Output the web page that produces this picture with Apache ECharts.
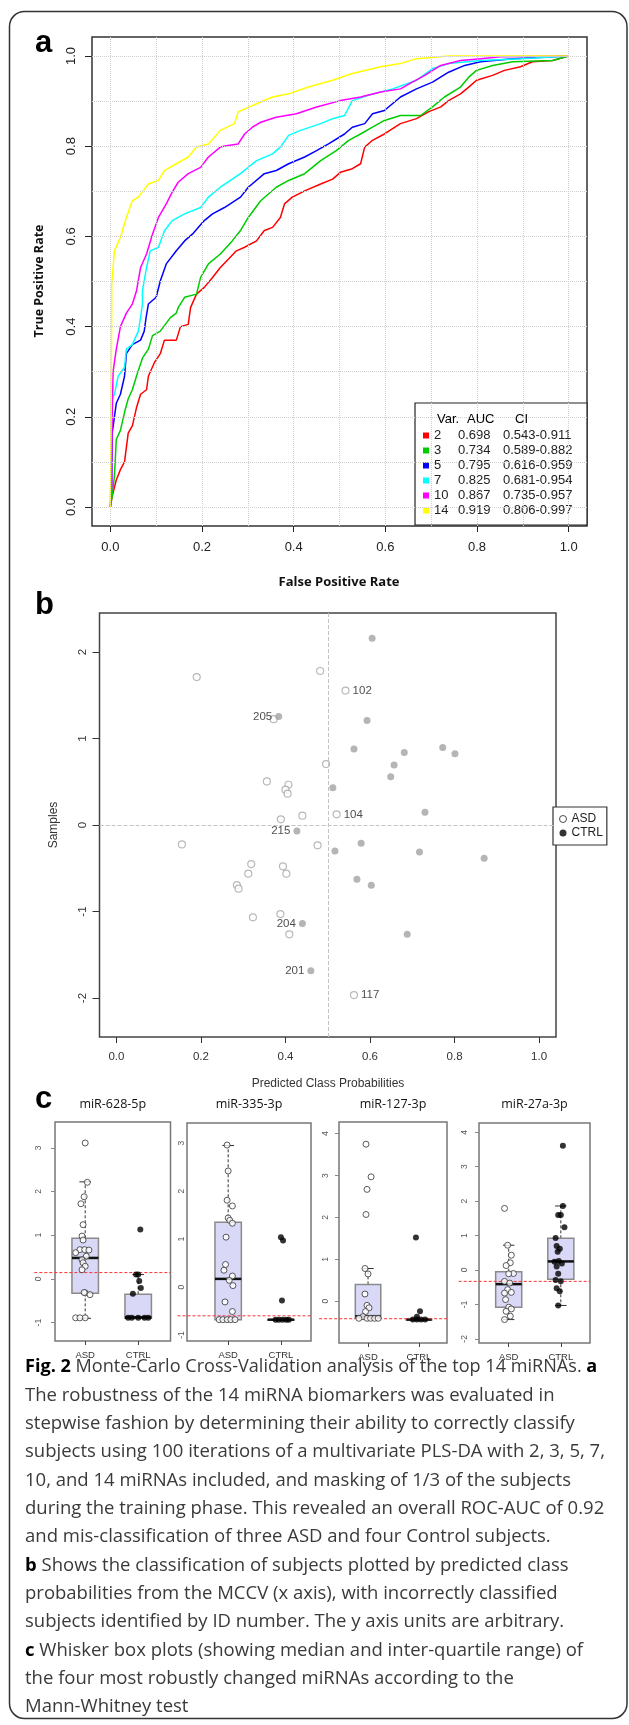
<!DOCTYPE html>
<html>
<head>
<meta charset="utf-8">
<script src="https://cdn.jsdelivr.net/npm/echarts@6/dist/echarts.min.js"></script>
<style>
html, body { margin: 0; padding: 0; background: #fff; }
#main { width: 629px; height: 1725px; }
</style>
</head>
<body>
<div id="main"></div>
<script>
// ---- panel a: ROC curves ([FPR, TPR]) ----
var rocVars = ['2', '3', '5', '7', '10', '14'];
var rocAuc = ['0.698', '0.734', '0.795', '0.825', '0.867', '0.919'];
var rocCi = ['0.543-0.911', '0.589-0.882', '0.616-0.959', '0.681-0.954', '0.735-0.957', '0.806-0.997'];
var rocColors = ['#ff0000', '#00cd00', '#0000ff', '#00ffff', '#ff00ff', '#ffff00'];
var rocTicks = [0, 0.2, 0.4, 0.6, 0.8, 1.0];
var rocGridSteps = [0, 0.1, 0.2, 0.3, 0.4, 0.5, 0.6, 0.7, 0.8, 0.9, 1.0];

var roc2 = [[0,0],[0.004,0.024],[0.013,0.06],[0.022,0.083],[0.031,0.1],[0.039,0.164],[0.048,0.18],[0.057,0.22],[0.066,0.25],[0.079,0.26],[0.083,0.29],[0.096,0.32],[0.109,0.34],[0.118,0.37],[0.144,0.37],[0.153,0.4],[0.17,0.405],[0.175,0.442],[0.188,0.472],[0.205,0.487],[0.223,0.509],[0.24,0.531],[0.258,0.55],[0.275,0.568],[0.293,0.576],[0.319,0.59],[0.336,0.613],[0.354,0.62],[0.371,0.642],[0.38,0.672],[0.397,0.687],[0.424,0.701],[0.459,0.716],[0.485,0.727],[0.502,0.742],[0.528,0.75],[0.546,0.761],[0.555,0.798],[0.572,0.813],[0.598,0.827],[0.633,0.85],[0.668,0.861],[0.694,0.876],[0.721,0.887],[0.738,0.901],[0.764,0.916],[0.782,0.931],[0.799,0.946],[0.834,0.957],[0.86,0.968],[0.895,0.976],[0.921,0.987],[0.965,0.99],[1,1]];
var roc3 = [[0,0],[0.004,0.024],[0.009,0.07],[0.013,0.15],[0.022,0.17],[0.031,0.21],[0.039,0.24],[0.048,0.26],[0.057,0.29],[0.07,0.33],[0.083,0.35],[0.092,0.38],[0.109,0.39],[0.131,0.42],[0.144,0.43],[0.148,0.442],[0.162,0.465],[0.188,0.472],[0.197,0.509],[0.214,0.539],[0.24,0.561],[0.266,0.59],[0.284,0.613],[0.301,0.642],[0.328,0.679],[0.362,0.709],[0.389,0.724],[0.424,0.739],[0.459,0.768],[0.493,0.79],[0.52,0.813],[0.546,0.827],[0.572,0.842],[0.598,0.857],[0.633,0.868],[0.677,0.868],[0.703,0.887],[0.729,0.909],[0.764,0.931],[0.782,0.953],[0.799,0.968],[0.834,0.979],[0.878,0.987],[0.965,0.99],[1,1]];
var roc5 = [[0,0],[0.003,0.05],[0.004,0.164],[0.013,0.23],[0.022,0.25],[0.031,0.29],[0.035,0.34],[0.048,0.36],[0.066,0.37],[0.074,0.39],[0.078,0.42],[0.083,0.45],[0.1,0.465],[0.109,0.501],[0.122,0.539],[0.144,0.568],[0.162,0.59],[0.179,0.605],[0.205,0.635],[0.223,0.65],[0.249,0.664],[0.284,0.687],[0.301,0.709],[0.336,0.739],[0.362,0.746],[0.389,0.761],[0.424,0.776],[0.45,0.79],[0.476,0.805],[0.511,0.827],[0.528,0.842],[0.555,0.85],[0.572,0.872],[0.598,0.879],[0.633,0.909],[0.668,0.927],[0.703,0.942],[0.738,0.964],[0.773,0.979],[0.808,0.987],[0.878,0.994],[1,1]];
var roc7 = [[0,0],[0.002,0.12],[0.002,0.24],[0.009,0.25],[0.017,0.29],[0.031,0.31],[0.035,0.35],[0.048,0.36],[0.061,0.39],[0.066,0.42],[0.07,0.45],[0.07,0.479],[0.079,0.531],[0.087,0.568],[0.105,0.576],[0.118,0.612],[0.135,0.635],[0.162,0.65],[0.197,0.664],[0.214,0.687],[0.24,0.709],[0.284,0.739],[0.319,0.768],[0.354,0.783],[0.371,0.798],[0.389,0.824],[0.415,0.835],[0.459,0.85],[0.485,0.861],[0.511,0.868],[0.528,0.901],[0.563,0.913],[0.616,0.927],[0.668,0.946],[0.703,0.972],[0.738,0.983],[0.808,0.99],[0.895,0.994],[1,1]];
var roc10 = [[0,0],[0.003,0.05],[0.003,0.09],[0.004,0.2],[0.006,0.3],[0.013,0.35],[0.022,0.4],[0.035,0.43],[0.048,0.45],[0.057,0.479],[0.066,0.531],[0.079,0.561],[0.092,0.605],[0.105,0.642],[0.122,0.672],[0.135,0.698],[0.148,0.72],[0.17,0.739],[0.197,0.753],[0.214,0.776],[0.24,0.798],[0.253,0.801],[0.279,0.805],[0.293,0.827],[0.31,0.842],[0.328,0.853],[0.362,0.864],[0.406,0.872],[0.45,0.887],[0.502,0.901],[0.546,0.909],[0.59,0.92],[0.633,0.927],[0.659,0.942],[0.686,0.957],[0.721,0.979],[0.764,0.99],[0.808,0.994],[0.852,0.998],[1,1]];
var roc14 = [[0,0],[0.002,0.25],[0.003,0.45],[0.003,0.494],[0.009,0.568],[0.022,0.598],[0.035,0.642],[0.048,0.679],[0.061,0.687],[0.083,0.716],[0.105,0.724],[0.118,0.746],[0.144,0.761],[0.17,0.776],[0.188,0.798],[0.214,0.805],[0.24,0.835],[0.271,0.85],[0.279,0.876],[0.319,0.894],[0.354,0.909],[0.389,0.916],[0.432,0.931],[0.485,0.946],[0.528,0.961],[0.59,0.976],[0.633,0.983],[0.668,0.994],[0.738,1.0],[1,1]];
var rocCurves = [roc2, roc3, roc5, roc7, roc10, roc14];

// ---- panel b: predicted class probability vs arbitrary y ([x, y, id]) ----
var bTicksX = [0, 0.2, 0.4, 0.6, 0.8, 1.0];
var bTicksY = [-2, -1, 0, 1, 2];
var bAsd = [[0.482,1.78,''],[0.19,1.71,''],[0.542,1.554,'102'],[0.372,1.223,''],[0.496,0.704,''],[0.356,0.504,''],[0.407,0.465,''],[0.4,0.408,''],[0.405,0.362,''],[0.521,0.123,'104'],[0.44,0.108,''],[0.389,0.066,''],[0.155,-0.224,''],[0.476,-0.235,''],[0.319,-0.451,''],[0.394,-0.478,''],[0.312,-0.563,''],[0.402,-0.563,''],[0.285,-0.694,''],[0.289,-0.736,''],[0.388,-1.029,''],[0.323,-1.067,''],[0.409,-1.264,''],[0.562,-1.965,'117']];
var bCtrl = [[0.605,2.158,''],[0.384,1.254,'205'],[0.593,1.208,''],[0.562,0.877,''],[0.681,0.838,''],[0.772,0.896,''],[0.801,0.823,''],[0.657,0.692,''],[0.649,0.558,''],[0.512,0.431,''],[0.73,0.146,''],[0.427,-0.069,'215'],[0.517,-0.3,''],[0.579,-0.212,''],[0.717,-0.312,''],[0.87,-0.385,''],[0.569,-0.628,''],[0.603,-0.697,''],[0.44,-1.137,'204'],[0.688,-1.264,''],[0.46,-1.684,'201']];

// ---- panel c: box plots ([min, q1, median, q3, max]) and jittered points ([x, value]) ----
var cNames = ['miR-628-5p', 'miR-335-3p', 'miR-127-3p', 'miR-27a-3p'];
var cGroups = ['ASD', 'CTRL'];
var cBoxAsd = [[-0.9,-0.33,0.48,0.93,2.22],[-0.68,-0.68,0.17,1.35,2.95],[-0.41,-0.41,-0.36,0.4,0.78],[-1.44,-1.08,-0.41,-0.05,0.72]];
var cBoxCtrl = [[-0.9,-0.9,-0.88,-0.35,0.1],[-0.68,-0.68,-0.68,-0.68,-0.68],[-0.44,-0.44,-0.44,-0.44,-0.44],[-1.03,-0.27,0.25,0.92,1.86]];
var cRef = [0.145, -0.6, -0.42, -0.33];
var cTicks = [[-1,0,1,2,3],[-1,0,1,2,3],[0,1,2,3,4],[-2,-1,0,1,2,3,4]];
var cPtsAsd = [
  [[1.0,3.11],[1.04,2.21],[0.98,1.88],[0.92,1.72],[0.96,1.24],[0.94,0.98],[0.96,0.89],[0.9,0.67],[0.99,0.67],[1.07,0.66],[0.82,0.6],[1.02,0.52],[0.94,0.44],[0.96,0.37],[1.0,0.29],[0.94,0.21],[1.0,-0.32],[1.09,-0.36],[0.98,-0.31],[0.82,-0.89],[1.0,-0.89],[0.9,-0.89]],
  [[0.98,2.96],[1.0,2.42],[0.98,1.81],[1.08,1.69],[1.0,1.44],[1.03,1.39],[1.08,1.33],[0.96,1.04],[0.95,0.47],[0.92,0.35],[1.08,0.23],[1.02,0.14],[1.09,0.03],[0.94,-0.31],[1.08,-0.51],[0.83,-0.68],[0.9,-0.68],[0.98,-0.68],[1.05,-0.68],[1.13,-0.68]],
  [[0.96,3.75],[1.06,2.97],[0.98,2.67],[0.96,2.07],[0.94,0.78],[1.0,0.65],[0.94,0.17],[0.98,-0.1],[1.02,-0.16],[0.95,-0.25],[0.9,-0.37],[0.82,-0.41],[0.98,-0.41],[1.05,-0.41],[1.13,-0.41],[1.2,-0.41]],
  [[0.92,1.79],[0.98,0.72],[1.05,0.43],[1.03,0.21],[0.95,0.13],[1.09,-0.1],[1.0,-0.11],[0.92,-0.33],[1.02,-0.38],[0.98,-0.57],[1.05,-0.65],[0.92,-0.67],[0.94,-0.86],[1.0,-1.08],[1.05,-1.13],[0.95,-1.2],[1.03,-1.34],[0.92,-1.44]]
];
var cPtsCtrl = [
  [[2.04,1.13],[1.96,0.1],[2.0,0.1],[2.02,-0.05],[2.05,-0.21],[1.9,-0.34],[1.81,-0.89],[1.88,-0.89],[2.0,-0.89],[2.12,-0.89],[2.19,-0.89]],
  [[2.0,1.04],[2.04,0.97],[2.02,-0.28],[1.9,-0.68],[1.96,-0.68],[2.03,-0.68],[2.1,-0.68],[2.15,-0.68]],
  [[1.94,1.52],[2.02,-0.24],[1.96,-0.37],[1.88,-0.44],[1.96,-0.44],[2.04,-0.44],[2.12,-0.44]],
  [[2.04,3.61],[2.04,1.86],[1.95,1.6],[2.0,1.6],[2.07,1.24],[1.9,0.93],[1.92,0.7],[1.98,0.62],[1.94,0.53],[1.96,0.26],[1.88,0.24],[2.02,0.19],[1.92,0.1],[1.95,-0.11],[1.9,-0.29],[2.0,-0.33],[1.92,-0.53],[1.98,-0.62],[1.95,-1.03]]
];

var captionLines = [
  '{b|Fig. 2} Monte-Carlo Cross-Validation analysis of the top 14 miRNAs. {b|a}',
  'The robustness of the 14 miRNA biomarkers was evaluated in',
  'stepwise fashion by determining their ability to correctly classify',
  'subjects using 100 iterations of a multivariate PLS-DA with 2, 3, 5, 7,',
  '10, and 14 miRNAs included, and masking of 1/3 of the subjects',
  'during the training phase. This revealed an overall ROC-AUC of 0.92',
  'and mis-classification of three ASD and four Control subjects.',
  '{b|b} Shows the classification of subjects plotted by predicted class',
  'probabilities from the MCCV (x axis), with incorrectly classified',
  'subjects identified by ID number. The y axis units are arbitrary.',
  '{b|c} Whisker box plots (showing median and inter-quartile range) of',
  'the four most robustly changed miRNAs according to the',
  'Mann-Whitney test'
];

var SANS = 'Liberation Sans, Arial, sans-serif';
var OPEN = 'Open Sans, sans-serif';

// layout of the four small box-plot panels (lm = y label margin)
var cLayout = [
  { left: 55, top: 1122, width: 115.5, height: 219, xr: [0.43, 2.61], yr: [-1.42, 3.59], lm: 12 },
  { left: 187, top: 1123, width: 124, height: 218, xr: [0.22, 2.57], yr: [-1.125, 3.42], lm: 1 },
  { left: 339, top: 1122, width: 108, height: 221, xr: [0.43, 2.55], yr: [-1.0, 4.28], lm: 8.5 },
  { left: 479, top: 1123, width: 111, height: 220, xr: [0.43, 2.56], yr: [-2.12, 4.27], lm: 10 }
];

var myChart = echarts.init(document.getElementById('main'));

var noLine = { show: false, onZero: false };

var grids = [
  { left: 92, top: 37, width: 495, height: 489, show: true, borderColor: '#333', borderWidth: 1.5 },
  { left: 99.5, top: 613, width: 456.5, height: 424, show: true, borderColor: '#444', borderWidth: 1.5 }
];
var xAxes = [
  {
    gridIndex: 0, type: 'value', min: -0.04, max: 1.04, position: 'bottom',
    axisLine: noLine, splitLine: { show: false },
    axisTick: { show: true, length: 6, customValues: rocTicks, lineStyle: { color: '#222' } },
    axisLabel: { customValues: rocTicks, formatter: function (v) { return v.toFixed(1); }, margin: 15, fontSize: 13, color: '#222', fontFamily: SANS }
  },
  {
    gridIndex: 1, type: 'value', min: -0.04, max: 1.04, position: 'bottom',
    axisLine: noLine, splitLine: { show: false },
    axisTick: { show: true, length: 6, customValues: bTicksX, lineStyle: { color: '#333' } },
    axisLabel: { customValues: bTicksX, formatter: function (v) { return v.toFixed(1); }, margin: 14, fontSize: 11.5, color: '#333', fontFamily: SANS }
  }
];
var yAxes = [
  {
    gridIndex: 0, type: 'value', min: -0.042, max: 1.042, position: 'left',
    axisLine: noLine, splitLine: { show: false },
    axisTick: { show: true, length: 7, customValues: rocTicks, lineStyle: { color: '#222' } },
    axisLabel: { customValues: rocTicks, rotate: 90, formatter: function (v) { return v.toFixed(1); }, margin: 14, fontSize: 13, color: '#222', fontFamily: SANS }
  },
  {
    gridIndex: 1, type: 'value', min: -2.45, max: 2.45, position: 'left',
    axisLine: noLine, splitLine: { show: false },
    axisTick: { show: true, length: 7, customValues: bTicksY, lineStyle: { color: '#333' } },
    axisLabel: { customValues: bTicksY, rotate: 90, margin: 11, fontSize: 11.5, color: '#333', fontFamily: SANS }
  }
];

cLayout.forEach(function (L, i) {
  grids.push({ left: L.left, top: L.top, width: L.width, height: L.height, show: true, borderColor: '#777', borderWidth: 1.5 });
  xAxes.push({
    gridIndex: i + 2, type: 'value', min: L.xr[0], max: L.xr[1], position: 'bottom',
    axisLine: noLine, splitLine: { show: false },
    axisTick: { show: true, length: 4, customValues: [1, 2], lineStyle: { color: '#444' } },
    axisLabel: { customValues: [1, 2], formatter: function (v) { return cGroups[Math.round(v) - 1]; }, margin: 9, fontSize: 9.5, color: '#333', fontFamily: SANS }
  });
  yAxes.push({
    gridIndex: i + 2, type: 'value', min: L.yr[0], max: L.yr[1], position: 'left',
    axisLine: noLine, splitLine: { show: false },
    axisTick: { show: L.lm > 4, length: 4, customValues: cTicks[i], lineStyle: { color: '#888' } },
    axisLabel: { customValues: cTicks[i], rotate: 90, margin: L.lm, fontSize: 8.5, color: '#555', fontFamily: SANS }
  });
});

var series = [];

// dotted reference grid for panel a
series.push({
  type: 'line', xAxisIndex: 0, yAxisIndex: 0, data: [], z: 1, silent: true,
  markLine: {
    silent: true, symbol: 'none', label: { show: false },
    lineStyle: { color: '#cfcfcf', type: 'dotted', width: 1 },
    data: rocGridSteps.map(function (v) { return { xAxis: v }; })
      .concat(rocGridSteps.map(function (v) { return { yAxis: v }; }))
  }
});
rocVars.forEach(function (v, i) {
  series.push({
    name: v, type: 'line', xAxisIndex: 0, yAxisIndex: 0, data: rocCurves[i],
    showSymbol: false, symbol: 'none', z: 3,
    lineStyle: { width: 1.5, color: rocColors[i] }, itemStyle: { color: rocColors[i] }
  });
});

// panel b
function labelled(d) {
  return { value: [d[0], d[1]], name: d[2], label: { show: d[2] !== '', position: d[0] < 0.5 ? 'left' : 'right' } };
}
series.push({
  name: 'ASD', type: 'scatter', xAxisIndex: 1, yAxisIndex: 1, z: 3,
  data: bAsd.map(labelled), symbolSize: 7,
  itemStyle: { color: '#fff', borderColor: '#a8a8a8', borderWidth: 1.2 },
  label: { formatter: '{b}', fontSize: 11.5, color: '#222', distance: 3, fontFamily: SANS },
  markLine: {
    silent: true, symbol: 'none', label: { show: false },
    lineStyle: { color: '#c4c4c4', type: 'dashed', width: 1 },
    data: [{ xAxis: 0.5 }, { yAxis: 0 }]
  }
});
series.push({
  name: 'CTRL', type: 'scatter', xAxisIndex: 1, yAxisIndex: 1, z: 3,
  data: bCtrl.map(labelled), symbolSize: 7,
  itemStyle: { color: '#a3a3a3' },
  label: { formatter: '{b}', fontSize: 11.5, color: '#222', distance: 3, fontFamily: SANS }
});

// panel c
function renderBox(params, api) {
  var x = api.value(0);
  var lo = api.coord([x, api.value(1)]);
  var q1 = api.coord([x, api.value(2)]);
  var med = api.coord([x, api.value(3)]);
  var q3 = api.coord([x, api.value(4)]);
  var hi = api.coord([x, api.value(5)]);
  var hw = api.size([0.25, 0])[0];
  var cw = api.size([0.11, 0])[0];
  var cx = q1[0];
  var dash = { stroke: '#333', lineWidth: 1, lineDash: [3, 2] };
  var solid = { stroke: '#333', lineWidth: 1 };
  return {
    type: 'group',
    children: [
      { type: 'line', shape: { x1: cx, y1: q3[1], x2: cx, y2: hi[1] }, style: dash },
      { type: 'line', shape: { x1: cx, y1: q1[1], x2: cx, y2: lo[1] }, style: dash },
      { type: 'line', shape: { x1: cx - cw, y1: hi[1], x2: cx + cw, y2: hi[1] }, style: solid },
      { type: 'line', shape: { x1: cx - cw, y1: lo[1], x2: cx + cw, y2: lo[1] }, style: solid },
      { type: 'rect', shape: { x: cx - hw, y: q3[1], width: 2 * hw, height: Math.max(q1[1] - q3[1], 0.5) }, style: { fill: '#d9d9f7', stroke: '#8a8a8a', lineWidth: 1.5 } },
      { type: 'line', shape: { x1: cx - hw, y1: med[1], x2: cx + hw, y2: med[1] }, style: { stroke: '#111', lineWidth: 2.5 } }
    ]
  };
}
function renderRef(params, api) {
  var a = api.coord([api.value(0), api.value(2)]);
  var b = api.coord([api.value(1), api.value(2)]);
  return { type: 'line', shape: { x1: a[0], y1: a[1], x2: b[0], y2: b[1] }, style: { stroke: '#ff3030', lineWidth: 1, lineDash: [3, 2] } };
}
cLayout.forEach(function (L, i) {
  series.push({
    type: 'custom', xAxisIndex: i + 2, yAxisIndex: i + 2, z: 2, silent: true,
    renderItem: renderBox, encode: { x: 0, y: [1, 2, 3, 4, 5] },
    data: [[1].concat(cBoxAsd[i]), [2].concat(cBoxCtrl[i])]
  });
  series.push({
    type: 'custom', xAxisIndex: i + 2, yAxisIndex: i + 2, z: 3, silent: true,
    renderItem: renderRef, encode: { x: [0, 1], y: 2 },
    data: [[0.04, L.xr[1], cRef[i]]]
  });
  series.push({
    type: 'scatter', xAxisIndex: i + 2, yAxisIndex: i + 2, z: 4, silent: true,
    data: cPtsAsd[i], symbolSize: 6,
    itemStyle: { color: '#fff', borderColor: '#333', borderWidth: 1 }
  });
  series.push({
    type: 'scatter', xAxisIndex: i + 2, yAxisIndex: i + 2, z: 4, silent: true,
    data: cPtsCtrl[i], symbolSize: 6,
    itemStyle: { color: '#000' }
  });
});

var rich13 = function (w) { return { width: w, fontSize: 13, lineHeight: 15, fontFamily: SANS, color: '#222' }; };

var graphics = [
  { type: 'rect', shape: { x: 9.5, y: 11.5, width: 617.5, height: 1707, r: 15 }, style: { fill: 'none', stroke: '#333', lineWidth: 1.5 }, silent: true },
  { type: 'text', x: 35, y: 43, style: { text: 'a', fontSize: 31, fontWeight: 'bold', fontFamily: SANS, fill: '#000', verticalAlign: 'middle' } },
  { type: 'text', x: 35, y: 605, style: { text: 'b', fontSize: 31, fontWeight: 'bold', fontFamily: SANS, fill: '#000', verticalAlign: 'middle' } },
  { type: 'text', x: 35, y: 1099, style: { text: 'c', fontSize: 31, fontWeight: 'bold', fontFamily: SANS, fill: '#000', verticalAlign: 'middle' } },
  { type: 'text', x: 437, y: 419, z: 10, style: { text: '{v|Var.}{a|AUC}{c|CI}', verticalAlign: 'middle', rich: { v: rich13(30), a: rich13(48), c: rich13(30) } } },
  // axis titles
  { type: 'text', x: 339, y: 582, style: { text: 'False Positive Rate', fontSize: 13, fontWeight: 'bold', fontFamily: OPEN, fill: '#111', align: 'center', verticalAlign: 'middle' } },
  { type: 'text', x: 39, y: 281, rotation: Math.PI / 2, style: { text: 'True Positive Rate', fontSize: 12.5, fontWeight: 'bold', fontFamily: OPEN, fill: '#111', align: 'center', verticalAlign: 'middle' } },
  { type: 'text', x: 328, y: 1084, style: { text: 'Predicted Class Probabilities', fontSize: 12, fontFamily: SANS, fill: '#333', align: 'center', verticalAlign: 'middle' } },
  { type: 'text', x: 54, y: 825, rotation: Math.PI / 2, style: { text: 'Samples', fontSize: 12, fontFamily: SANS, fill: '#333', align: 'center', verticalAlign: 'middle' } }
];
cLayout.forEach(function (L, i) {
  graphics.push({ type: 'text', x: L.left + L.width / 2, y: 1104, style: { text: cNames[i], fontSize: 12.5, fontFamily: OPEN, fill: '#111', align: 'center', verticalAlign: 'middle' } });
});
captionLines.forEach(function (line, i) {
  var size = i === 0 ? 18.1 : 18.5;
  graphics.push({
    type: 'text', x: 25, y: 1367 + i * 28.35,
    style: {
      text: line, fontSize: size, fontFamily: OPEN, fill: '#3a3a3a', verticalAlign: 'middle',
      rich: { b: { fontSize: size, fontFamily: OPEN, fontWeight: 'bold', fill: '#000' } }
    }
  });
});

option = {
  animation: false,
  grid: grids,
  xAxis: xAxes,
  yAxis: yAxes,
  legend: [
    {
      left: 415, top: 403, orient: 'vertical', selectedMode: false,
      itemWidth: 6, itemHeight: 6, itemGap: 0, icon: 'rect',
      padding: [25, 9, 7, 8], borderColor: '#222', borderWidth: 1.2, backgroundColor: '#fff',
      data: rocVars,
      formatter: function (name) {
        var i = rocVars.indexOf(name);
        return '{v|' + name + '}{a|' + rocAuc[i] + '}{c|' + rocCi[i] + '}';
      },
      textStyle: { fontSize: 13, lineHeight: 15, color: '#222', fontFamily: SANS, rich: { v: rich13(24), a: rich13(45), c: rich13(75) } }
    },
    {
      left: 553, top: 807, orient: 'vertical', selectedMode: false,
      itemWidth: 7, itemHeight: 7, itemGap: 0,
      padding: [5, 4, 5, 6], borderColor: '#333', borderWidth: 1.2, backgroundColor: '#fff',
      data: [
        { name: 'ASD', icon: 'circle', itemStyle: { color: '#fff', borderColor: '#222', borderWidth: 1 } },
        { name: 'CTRL', icon: 'circle', itemStyle: { color: '#000', borderWidth: 0 } }
      ],
      textStyle: { fontSize: 12, lineHeight: 14, color: '#222', fontFamily: SANS }
    }
  ],
  graphic: graphics,
  series: series
};
myChart.setOption(option);
</script>
</body>
</html>
